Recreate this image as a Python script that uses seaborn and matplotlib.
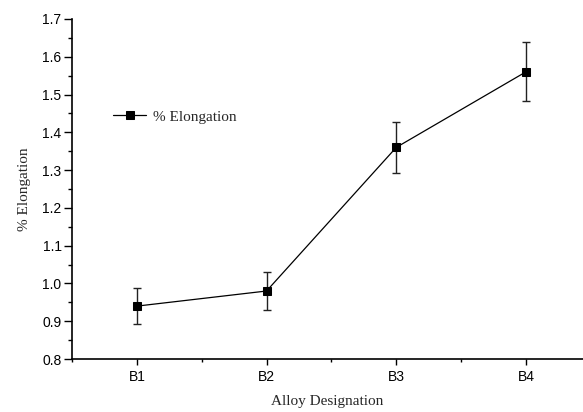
import matplotlib
matplotlib.use('Agg')
import matplotlib.pyplot as plt
import seaborn as sns
import pandas as pd
from matplotlib.ticker import MultipleLocator, FixedLocator, FormatStrFormatter

# values
alloys = ['B1', 'B2', 'B3', 'B4']
elongation = [0.94, 0.98, 1.36, 1.56]
elong_err = [0.047, 0.049, 0.068, 0.078]

df = pd.DataFrame({'alloy': alloys, 'elongation': elongation, 'err': elong_err})
df['pos'] = range(len(df))

sns.set_style('ticks')
plt.rcParams['font.family'] = ['Liberation Sans', 'DejaVu Sans']

fig = plt.figure(figsize=(5.83, 4.12), dpi=100)
ax = fig.add_axes([0.1235, 0.1286, 0.8765, 0.8254])

ax.errorbar(df['pos'], df['elongation'], yerr=df['err'], fmt='none',
            ecolor='#222222', elinewidth=1.0, capsize=3, capthick=1.0, zorder=2)
sns.lineplot(data=df, x='pos', y='elongation', ax=ax, color='black',
             linewidth=0.9, marker='s', markersize=5.5, markeredgecolor='black',
             label='% Elongation', zorder=3)

ax.set_xlim(-0.5, 3.44)
ax.set_ylim(0.8, 1.7)
ax.set_xticks(df['pos'])
ax.set_xticklabels(alloys)
ax.xaxis.set_minor_locator(FixedLocator([-0.5, 0.5, 1.5, 2.5]))
ax.yaxis.set_major_locator(MultipleLocator(0.1))
ax.yaxis.set_minor_locator(MultipleLocator(0.05))
ax.yaxis.set_major_formatter(FormatStrFormatter('%.1f'))

ax.tick_params(axis='both', which='both', direction='out', width=1,
               labelsize=10, colors='black')
ax.tick_params(axis='y', which='major', length=5.5, pad=2)
ax.tick_params(axis='y', which='minor', length=3)
ax.tick_params(axis='x', which='major', length=4.5, pad=3.5)
ax.tick_params(axis='x', which='minor', length=2.5)

for side in ['top', 'right']:
    ax.spines[side].set_visible(False)
for side in ['left', 'bottom']:
    ax.spines[side].set_linewidth(1.2)
    ax.spines[side].set_color('black')
ax.spines['bottom'].set_clip_on(False)

serif = ['Liberation Serif', 'DejaVu Serif']
ax.set_xlabel('Alloy Designation', family=serif, fontsize=11, labelpad=8)
ax.set_ylabel('% Elongation', family=serif, fontsize=11, labelpad=8)

ax.legend(loc='center left', bbox_to_anchor=(0.08, 0.712), frameon=False,
          borderaxespad=0, borderpad=0, handlelength=2.2, handletextpad=0.45,
          prop={'family': serif, 'size': 11})

fig.savefig('out.png', dpi=100)
